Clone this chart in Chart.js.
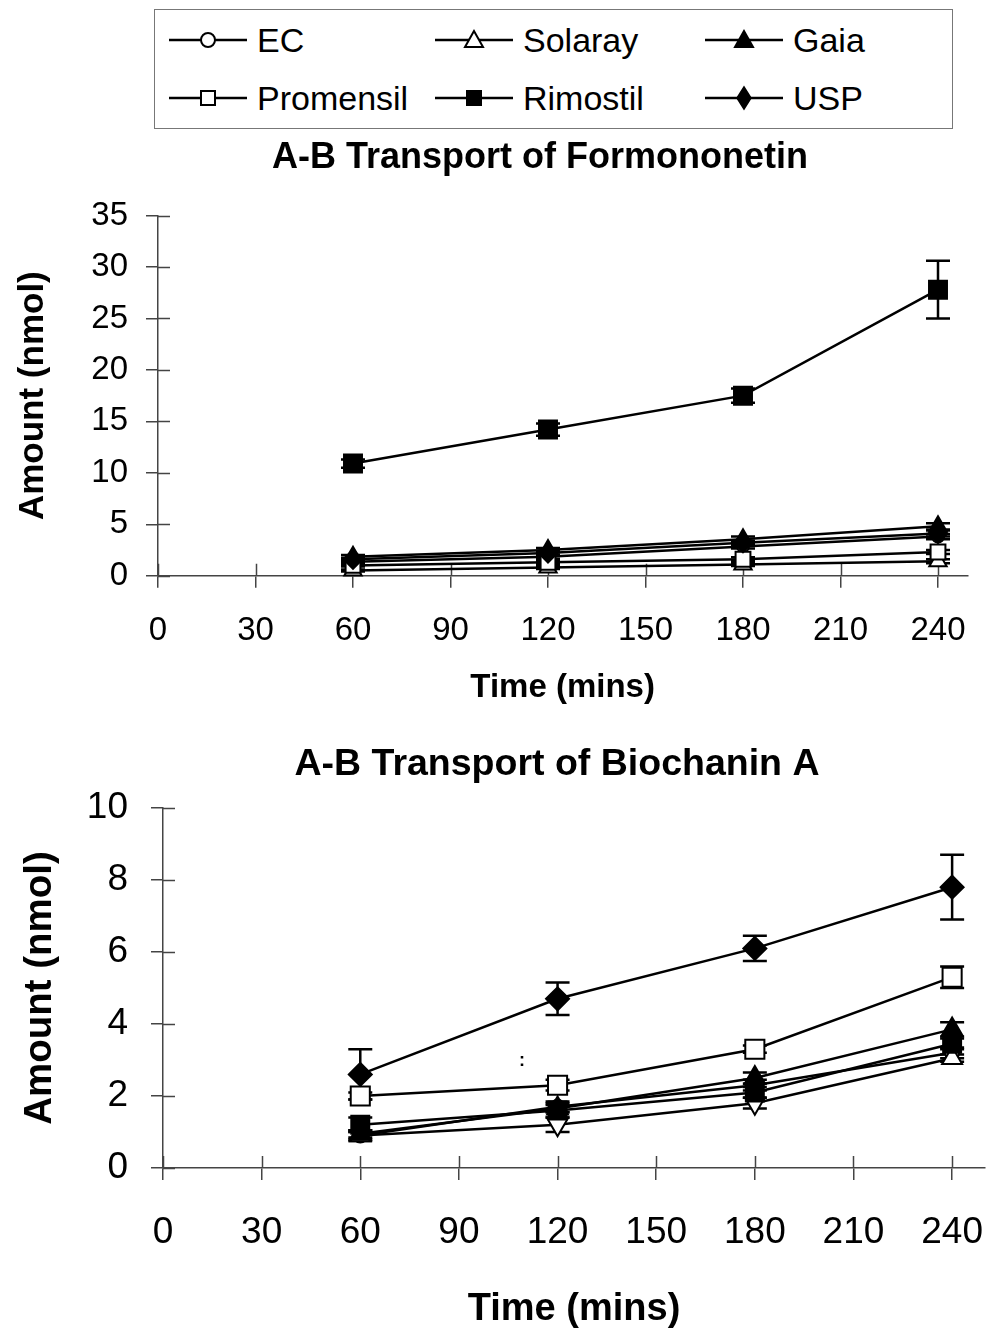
<!DOCTYPE html>
<html>
<head>
<meta charset="utf-8">
<script src="https://cdn.jsdelivr.net/npm/chart.js@4.4.1/dist/chart.umd.min.js"></script>
<style>
  html, body { margin: 0; padding: 0; background: #fff; }
  #page { position: relative; width: 992px; height: 1336px; font-family: "Liberation Sans", Arial, sans-serif; }
  #legendBox { position: absolute; left: 154px; top: 9px; width: 797px; height: 118px; border: 1.5px solid #777; }
  .item { position: absolute; height: 40px; display: flex; align-items: center; font-size: 34px; color: #000; white-space: nowrap; }
  .item svg { margin-right: 10px; }
  #chart1 { position: absolute; left: 0; top: 130px; }
  #chart2 { position: absolute; left: 0; top: 720px; }
  #stray { position: absolute; left: 519px; top: 1050px; font: bold 18px "Liberation Sans", Arial, sans-serif; }
</style>
</head>
<body>
<div id="page">
  <div id="legendBox"></div>
  <canvas id="chart1" width="992" height="590"></canvas>
  <canvas id="chart2" width="992" height="616"></canvas>
  <span id="stray">:</span>
</div>
<script>
// sampling times and axis ticks
const times = [60, 120, 180, 240];
const xTicks = [0, 30, 60, 90, 120, 150, 180, 210, 240];
const formYTicks = [0, 5, 10, 15, 20, 25, 30, 35];
const bioYTicks = [0, 2, 4, 6, 8, 10];

const seriesNames = ['EC', 'Solaray', 'Gaia', 'Promensil', 'Rimostil', 'USP'];

// A-B transport of formononetin (nmol)
const formEC = [1.35, 1.85, 2.85, 3.8];
const formSolaray = [0.5, 0.8, 1.1, 1.4];
const formGaia = [1.85, 2.5, 3.55, 4.8];
const formPromensil = [1.0, 1.3, 1.6, 2.3];
const formRimostil = [10.9, 14.2, 17.5, 27.8];
const formUSP = [1.6, 2.2, 3.2, 4.1];

const formECErr = [0.15, 0.2, 0.2, 0.25];
const formSolarayErr = [0.1, 0.15, 0.15, 0.2];
const formGaiaErr = [0.15, 0.2, 0.25, 0.3];
const formPromensilErr = [0.1, 0.15, 0.2, 0.2];
const formRimostilErr = [0.4, 0.6, 0.7, 2.8];
const formUSPErr = [0.15, 0.2, 0.2, 0.3];

// A-B transport of biochanin A (nmol)
const bioEC = [0.9, 1.7, 2.3, 3.2];
const bioSolaray = [0.9, 1.2, 1.8, 3.05];
const bioGaia = [0.95, 1.65, 2.5, 3.85];
const bioPromensil = [2.0, 2.3, 3.3, 5.3];
const bioRimostil = [1.2, 1.6, 2.1, 3.45];
const bioUSP = [2.6, 4.7, 6.1, 7.8];

const bioECErr = [0.1, 0.15, 0.15, 0.15];
const bioSolarayErr = [0.15, 0.2, 0.15, 0.1];
const bioGaiaErr = [0.1, 0.1, 0.15, 0.2];
const bioPromensilErr = [0.1, 0.15, 0.1, 0.3];
const bioRimostilErr = [0.2, 0.2, 0.15, 0.15];
const bioUSPErr = [0.7, 0.45, 0.35, 0.9];

const markers = {
    EC: { style: 'circle', fill: '#fff' },
    Solaray: { style: 'triangle', fill: '#fff' },
    Gaia: { style: 'triangle', fill: '#000' },
    Promensil: { style: 'rect', fill: '#fff' },
    Rimostil: { style: 'rect', fill: '#000' },
    USP: { style: 'rectRot', fill: '#000' }
};

const axisColor = '#444';
const fontFamily = '"Liberation Sans", Arial, sans-serif';
Chart.defaults.font.family = fontFamily;
Chart.defaults.color = '#000';

// legend, drawn as html so the marker can sit in the middle of the line
const legendSlots = [
    { left: 169, top: 20 }, { left: 435, top: 20 }, { left: 705, top: 20 },
    { left: 169, top: 78 }, { left: 435, top: 78 }, { left: 705, top: 78 }
];

function legendSymbol(name) {
    const m = markers[name];
    let shape;
    if (m.style === 'circle') shape = `<circle cx="39" cy="20" r="7" fill="${m.fill}" stroke="#000" stroke-width="2"/>`;
    else if (m.style === 'triangle') shape = `<polygon points="39,11 30,27 48,27" fill="${m.fill}" stroke="#000" stroke-width="2"/>`;
    else if (m.style === 'rect') shape = `<rect x="32" y="13" width="14" height="14" fill="${m.fill}" stroke="#000" stroke-width="2"/>`;
    else shape = `<polygon points="39,9 46,20 39,31 32,20" fill="${m.fill}" stroke="#000" stroke-width="1.5"/>`;
    return `<svg width="78" height="40"><line x1="0" y1="20" x2="78" y2="20" stroke="#000" stroke-width="2.5"/>${shape}</svg>`;
}

const page = document.getElementById('page');
seriesNames.forEach((name, i) => {
    const div = document.createElement('div');
    div.className = 'item';
    div.style.left = legendSlots[i].left + 'px';
    div.style.top = legendSlots[i].top + 'px';
    div.innerHTML = legendSymbol(name) + '<span>' + name + '</span>';
    page.appendChild(div);
});

const errorBars = {
    id: 'errorBars',
    beforeDatasetsDraw(chart) {
        const { ctx, scales: { x, y } } = chart;
        ctx.save();
        ctx.strokeStyle = '#000';
        ctx.lineWidth = 2.5;
        chart.data.datasets.forEach(ds => {
            ds.data.forEach((p, i) => {
                const e = ds.errors[i];
                const px = x.getPixelForValue(p.x);
                const top = y.getPixelForValue(p.y + e);
                const bot = y.getPixelForValue(p.y - e);
                ctx.beginPath();
                ctx.moveTo(px, top); ctx.lineTo(px, bot);
                ctx.moveTo(px - 12, top); ctx.lineTo(px + 12, top);
                ctx.moveTo(px - 12, bot); ctx.lineTo(px + 12, bot);
                ctx.stroke();
            });
        });
        ctx.restore();
    }
};

// excel style ticks cross the axis, chart.js only draws the outer half
const innerTicks = {
    id: 'innerTicks',
    beforeDatasetsDraw(chart) {
        const { ctx, chartArea, scales: { x, y } } = chart;
        ctx.save();
        ctx.strokeStyle = axisColor;
        ctx.lineWidth = 1.5;
        ctx.beginPath();
        x.ticks.forEach(t => {
            const px = Math.round(x.getPixelForValue(t.value)) + 0.5;
            ctx.moveTo(px, chartArea.bottom);
            ctx.lineTo(px, chartArea.bottom - 12);
        });
        y.ticks.forEach(t => {
            const py = Math.round(y.getPixelForValue(t.value)) + 0.5;
            ctx.moveTo(chartArea.left, py);
            ctx.lineTo(chartArea.left + 12, py);
        });
        ctx.stroke();
        ctx.restore();
    }
};

// the original title is not centred on the canvas, move the title box
const titleShift = {
    id: 'titleShift',
    afterLayout(chart, args, opts) {
        const t = chart.titleBlock;
        if (t && opts.center) t.left = 2 * opts.center - t.right;
    }
};

function buildDatasets(values, errors, radii, rotations) {
    const order = ['USP', 'Promensil', 'Rimostil', 'Gaia', 'Solaray', 'EC'];
    return order.map(name => ({
        label: name,
        data: times.map((t, i) => ({ x: t, y: values[name][i] })),
        errors: errors[name],
        borderColor: '#000',
        borderWidth: 2.5,
        tension: 0,
        pointStyle: markers[name].style,
        pointRadius: radii[name],
        pointRotation: (rotations && rotations[name]) || 0,
        pointBackgroundColor: markers[name].fill,
        pointBorderColor: '#000',
        pointBorderWidth: 2,
        clip: false
    }));
}

function makeChart(id, p) {
    return new Chart(document.getElementById(id), {
        type: 'line',
        data: { datasets: p.datasets },
        plugins: [innerTicks, errorBars, titleShift],
        options: {
            responsive: false,
            animation: false,
            devicePixelRatio: 1,
            layout: { autoPadding: false, padding: { left: 0, right: p.padRight, top: 0, bottom: 0 } },
            plugins: {
                legend: { display: false },
                tooltip: { enabled: false },
                titleShift: { center: p.titleCenter },
                title: {
                    display: true,
                    text: p.title,
                    color: '#000',
                    font: { size: p.titleSize, weight: 'bold' },
                    padding: { top: p.titleTop, bottom: p.titleBottom }
                }
            },
            scales: {
                x: {
                    type: 'linear',
                    min: 0,
                    max: p.xMax,
                    afterBuildTicks: s => { s.ticks = xTicks.map(v => ({ value: v })); },
                    afterFit: s => { s.height = p.xHeight; s.paddingLeft = 0; s.paddingRight = 0; },
                    ticks: { autoSkip: false, maxRotation: 0, includeBounds: false, padding: p.xTickPad, font: { size: p.tickSize }, color: '#000' },
                    grid: { drawOnChartArea: false, drawTicks: true, tickLength: 12, color: axisColor, lineWidth: 1.5 },
                    border: { display: true, color: axisColor, width: 1.5 },
                    title: { display: true, text: 'Time (mins)', color: '#000', font: { size: p.xTitleSize, weight: 'bold' }, padding: { top: 0, bottom: p.xTitleBottom } }
                },
                y: {
                    type: 'linear',
                    min: 0,
                    max: p.yMax,
                    afterBuildTicks: s => { s.ticks = p.yTicks.map(v => ({ value: v })); },
                    afterFit: s => { s.width = p.yWidth; s.paddingTop = 0; s.paddingBottom = 0; },
                    ticks: { autoSkip: false, padding: p.yTickPad, font: { size: p.tickSize }, color: '#000' },
                    grid: { drawOnChartArea: false, drawTicks: true, tickLength: 12, color: axisColor, lineWidth: 1.5 },
                    border: { display: true, color: axisColor, width: 1.5 },
                    title: { display: true, text: 'Amount (nmol)', color: '#000', font: { size: p.yTitleSize, weight: 'bold' }, padding: { top: p.yTitleTop, bottom: 0 } }
                }
            }
        }
    });
}

makeChart('chart1', {
    title: 'A-B Transport of Formononetin',
    datasets: buildDatasets(
        { EC: formEC, Solaray: formSolaray, Gaia: formGaia, Promensil: formPromensil, Rimostil: formRimostil, USP: formUSP },
        { EC: formECErr, Solaray: formSolarayErr, Gaia: formGaiaErr, Promensil: formPromensilErr, Rimostil: formRimostilErr, USP: formUSPErr },
        { EC: 6, Solaray: 10, Gaia: 10, Promensil: 10.5, Rimostil: 12.7, USP: 9.5 }
    ),
    padRight: 24.75, titleCenter: 540,
    titleSize: 36, titleTop: 6.4, titleBottom: 36,
    xMax: 249, xHeight: 144.3, xTickPad: 23.5, xTitleSize: 33, xTitleBottom: 12,
    yMax: 35, yTicks: formYTicks, yWidth: 158, yTickPad: 18, yTitleSize: 35, yTitleTop: 12,
    tickSize: 33
});

makeChart('chart2', {
    title: 'A-B Transport of Biochanin A',
    datasets: buildDatasets(
        { EC: bioEC, Solaray: bioSolaray, Gaia: bioGaia, Promensil: bioPromensil, Rimostil: bioRimostil, USP: bioUSP },
        { EC: bioECErr, Solaray: bioSolarayErr, Gaia: bioGaiaErr, Promensil: bioPromensilErr, Rimostil: bioRimostilErr, USP: bioUSPErr },
        { EC: 7, Solaray: 11.5, Gaia: 12, Promensil: 13.5, Rimostil: 12.7, USP: 11.5 },
        { Solaray: [0, 180, 180, 0] }
    ),
    padRight: 7, titleCenter: 557,
    titleSize: 37.5, titleTop: 22.5, titleBottom: 20.5,
    xMax: 250, xHeight: 168, xTickPad: 30.8, xTitleSize: 38, xTitleBottom: 3.2,
    yMax: 10, yTicks: bioYTicks, yWidth: 163, yTickPad: 23, yTitleSize: 38.5, yTitleTop: 17,
    tickSize: 37
});
</script>
</body>
</html>
